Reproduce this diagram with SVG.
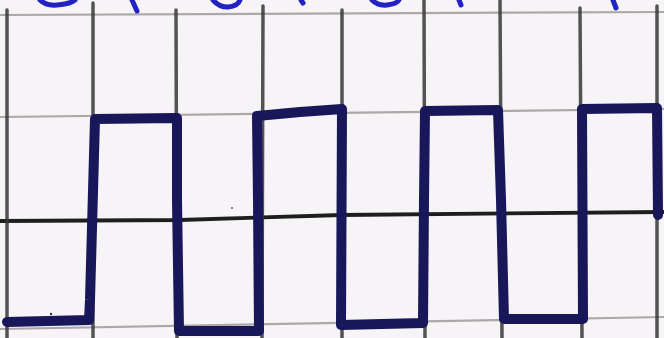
<svg xmlns="http://www.w3.org/2000/svg" width="664" height="338" viewBox="0 0 664 338">
  <style>
    .vgrid { stroke: #383838; stroke-width: 3.5; stroke-linecap: round; opacity: 0.85; }
    .hgrid { stroke: #9a9496; stroke-width: 2.2; opacity: 0.8; }
    .axis { stroke: #1e1e1e; stroke-width: 3.8; fill: none; }
    .wave { stroke: #17175a; stroke-width: 10; fill: none; stroke-linejoin: round; stroke-linecap: round; }
    .ink { stroke: #2323c4; stroke-width: 5; fill: none; stroke-linecap: round; }
  </style>
  <rect width="664" height="338" fill="#f6f4f6"/>
  <g id="grid">
    <line class="hgrid" x1="0" y1="15" x2="664" y2="12"/>
    <line class="hgrid" x1="0" y1="117" x2="664" y2="109"/>
    <line class="hgrid" x1="0" y1="329" x2="664" y2="317"/>
    <path class="axis" d="M 0,221 L 180,220 L 342,215 L 664,212"/>
    <line class="vgrid" x1="7" y1="10" x2="7" y2="338"/>
    <line class="vgrid" x1="93" y1="3" x2="93" y2="338"/>
    <line class="vgrid" x1="176" y1="10" x2="177" y2="338"/>
    <line class="vgrid" x1="263" y1="6" x2="262" y2="338"/>
    <line class="vgrid" x1="342" y1="10" x2="342" y2="338"/>
    <line class="vgrid" x1="424" y1="0" x2="425" y2="338"/>
    <line class="vgrid" x1="500" y1="0" x2="502" y2="338"/>
    <line class="vgrid" x1="580" y1="8" x2="582" y2="338"/>
    <line class="vgrid" x1="657" y1="6" x2="657" y2="338"/>
  </g>
  <g id="marks">
    <path class="ink" d="M 40,0 Q 46,6 57,5 Q 70,4 75,0"/>
    <path class="ink" d="M 132,0 L 137,11"/>
    <path class="ink" d="M 213,0 Q 219,7 228,7 Q 238,6 240,0"/>
    <path class="ink" d="M 301,0 L 303,3" stroke-width="3"/>
    <path class="ink" d="M 372,0 Q 378,6 387,5 Q 397,4 399,0"/>
    <path class="ink" d="M 459,0 L 461,5" stroke-width="4"/>
    <path class="ink" d="M 613,0 L 616,8"/>
    <circle cx="51" cy="314" r="1.2" fill="#333"/>
    <circle cx="232" cy="208" r="1" fill="#555"/>
  </g>
  <g id="connectors">
    <path class="wave" d="M 7,322 L 89,320 L 90,300 L 95,119 L 177,118 L 177,200 L 179,331 L 259,331 L 258,200 L 257,116 L 300,112 L 342,109 L 341,325 L 423,323 L 424,200 L 425,111 L 498,110 L 501,200 L 504,319 L 583,319 L 582,109 L 657,108 L 658,215"/>
  </g>
</svg>
